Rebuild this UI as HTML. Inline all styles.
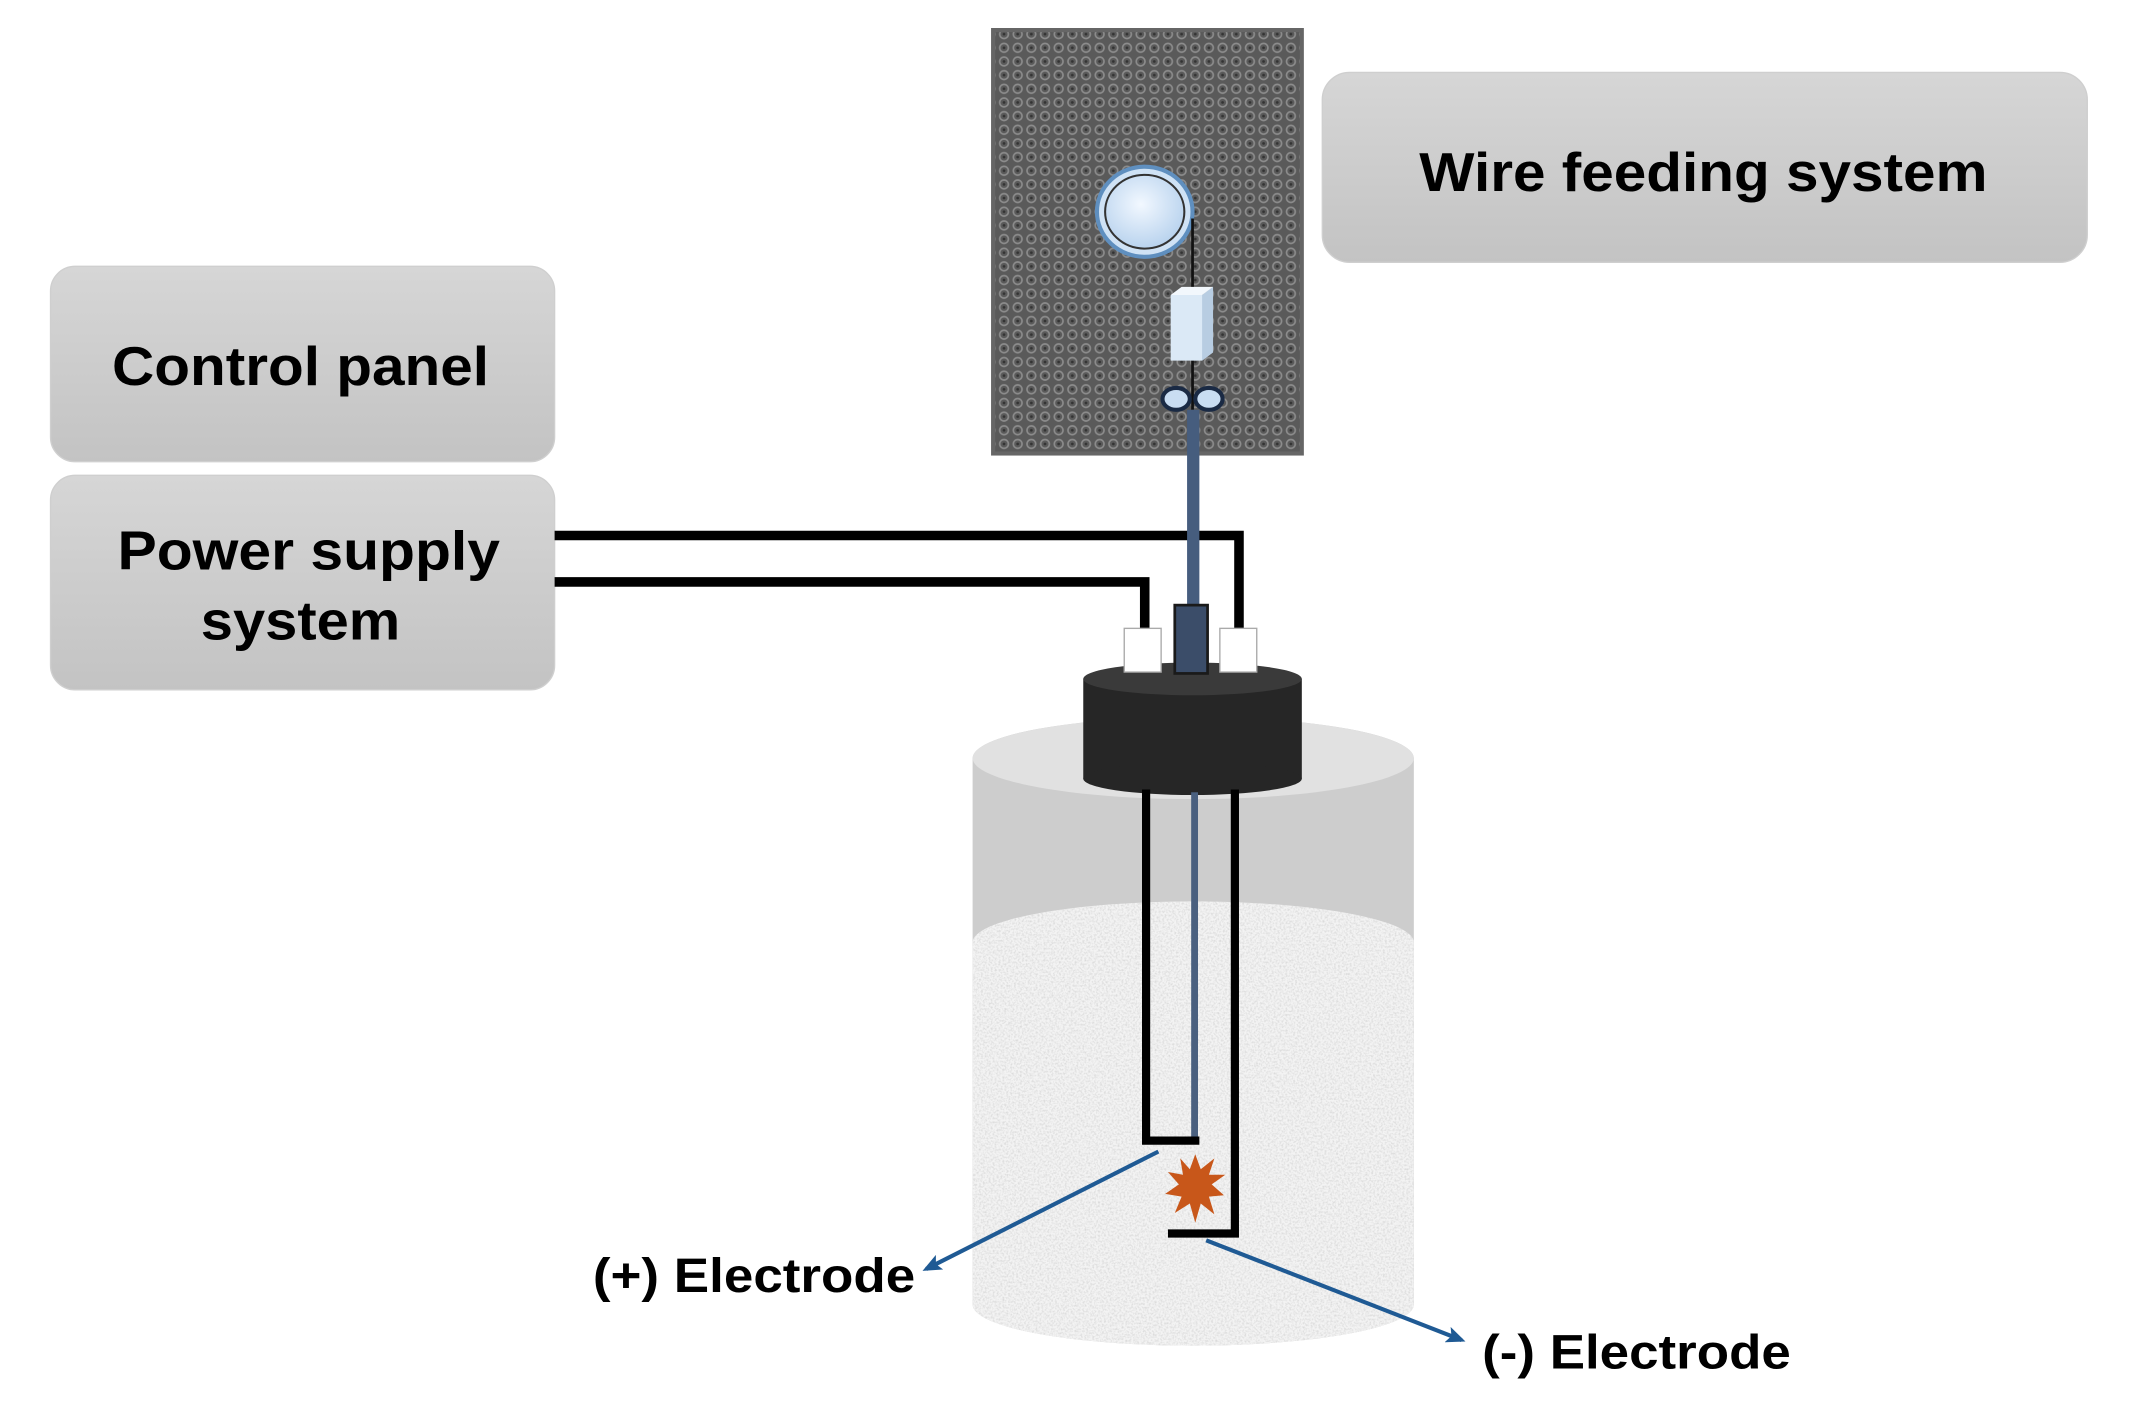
<!DOCTYPE html>
<html><head><meta charset="utf-8"><style>
html,body{margin:0;padding:0;background:#fff;}
svg{display:block;}
text{font-family:"Liberation Sans",Arial,sans-serif;font-weight:bold;fill:#000;}
</style></head><body>
<svg width="2131" height="1422" viewBox="0 0 1560 1041" preserveAspectRatio="none" xmlns="http://www.w3.org/2000/svg">
<defs>
<linearGradient id="bg" x1="0" y1="0" x2="0" y2="1">
<stop offset="0" stop-color="#d6d6d6"/><stop offset="1" stop-color="#c3c3c3"/>
</linearGradient>
<pattern id="tex" width="10" height="10" patternUnits="userSpaceOnUse">
<rect width="10" height="10" fill="#5a5a5a"/>
<circle cx="5" cy="5" r="3.2" fill="none" stroke="#8c8c8c" stroke-width="1.2"/>
<circle cx="5" cy="5" r="1" fill="#333"/>
</pattern>
<filter id="noise" x="0" y="0" width="100%" height="100%">
<feTurbulence type="fractalNoise" baseFrequency="0.7" numOctaves="2" seed="3" result="t"/>
<feColorMatrix in="t" type="matrix" values="0 0 0 0 0.6  0 0 0 0 0.6  0 0 0 0 0.6  0 0 0 -1.4 0.85"/>
<feComposite in2="SourceGraphic" operator="in"/>
</filter>
<radialGradient id="spool" cx="0.45" cy="0.4" r="0.6">
<stop offset="0" stop-color="#f2f8ff"/><stop offset="1" stop-color="#b9d3ee"/>
</radialGradient>
<marker id="ah" markerWidth="14" markerHeight="12" refX="11" refY="6" orient="auto" markerUnits="userSpaceOnUse">
<path d="M0,0 L14,6 L0,12 L3,6 Z" fill="#1f5a94"/>
</marker>
<clipPath id="sand"><path d="M712,690 A161,30 0 0 1 1035,690 L1035,955 A161,30 0 0 1 712,955 Z"/></clipPath>
</defs>

<rect x="37" y="195" width="369" height="143" rx="18" fill="url(#bg)" stroke="#cfcfcf"/>
<text x="220" y="282" font-size="40" text-anchor="middle" textLength="276" lengthAdjust="spacingAndGlyphs">Control panel</text>
<rect x="37" y="348" width="369" height="157" rx="18" fill="url(#bg)" stroke="#cfcfcf"/>
<text x="226" y="417" font-size="40" text-anchor="middle" textLength="280" lengthAdjust="spacingAndGlyphs">Power supply</text>
<text x="220" y="468" font-size="40" text-anchor="middle" textLength="146" lengthAdjust="spacingAndGlyphs">system</text>
<rect x="968" y="53" width="560" height="139" rx="20" fill="url(#bg)" stroke="#cfcfcf"/>
<text x="1247" y="140" font-size="40" text-anchor="middle" textLength="416" lengthAdjust="spacingAndGlyphs">Wire feeding system</text>

<rect x="727" y="22" width="226" height="310" fill="url(#tex)" stroke="#666" stroke-width="3"/>
<ellipse cx="838" cy="155" rx="35" ry="33" fill="#cfe2f5" stroke="#5f8fbf" stroke-width="3"/>
<ellipse cx="838" cy="155" rx="29" ry="27" fill="url(#spool)" stroke="#333" stroke-width="1.5"/>
<line x1="873" y1="160" x2="873" y2="300" stroke="#111" stroke-width="2"/>
<path d="M857,216 L880,216 L888,210 L888,258 L880,264 L857,264 Z" fill="#dbe9f6"/>
<path d="M880,216 L888,210 L888,258 L880,264 Z" fill="#b8cde2"/>
<path d="M857,216 L865,210 L888,210 L880,216 Z" fill="#f2f7fc"/>
<ellipse cx="861" cy="292" rx="10" ry="8" fill="#c9ddf2" stroke="#1a2a44" stroke-width="3"/>
<ellipse cx="885" cy="292" rx="10" ry="8" fill="#c9ddf2" stroke="#1a2a44" stroke-width="3"/>

<path d="M712,555 A161,30 0 0 1 1035,555 L1035,955 A161,30 0 0 1 712,955 Z" fill="#cdcdcd"/>
<ellipse cx="873.5" cy="555" rx="161.5" ry="30" fill="#e1e1e1"/>
<g clip-path="url(#sand)">
<rect x="700" y="650" width="350" height="350" fill="#f3f3f3"/>
<rect x="700" y="650" width="350" height="350" fill="#fff" filter="url(#noise)"/>
</g>

<polyline points="406,392 907,392 907,462" fill="none" stroke="#000" stroke-width="7"/>
<polyline points="406,426 838,426 838,462" fill="none" stroke="#000" stroke-width="7"/>
<rect x="869" y="300" width="9" height="145" fill="#465d7e"/>

<rect x="793" y="497" width="160" height="73" fill="#262626"/>
<ellipse cx="873" cy="570" rx="80" ry="12" fill="#262626"/>
<ellipse cx="873" cy="497" rx="80" ry="12" fill="#3a3a3a"/>
<rect x="823" y="460" width="27" height="32" fill="#fff" stroke="#aaa"/>
<rect x="893" y="460" width="27" height="32" fill="#fff" stroke="#aaa"/>
<rect x="860" y="443" width="24" height="50" fill="#3b4d69" stroke="#1a1a1a" stroke-width="2"/>

<polyline points="839,578 839,835 878,835" fill="none" stroke="#000" stroke-width="6"/>
<polyline points="855,903 904,903 904,578" fill="none" stroke="#000" stroke-width="6"/>
<rect x="872" y="580" width="5" height="252" fill="#4a607f"/>

<polygon fill="#c8571a" points="875,845 879,856 889,848 885,860 897,860 887,867 896,875 885,876 889,889 879,881 875,895 871,881 860,888 865,876 853,874 863,867 855,858 866,860 864,848 871,856"/>

<line x1="848" y1="843" x2="678" y2="929" stroke="#1f5a94" stroke-width="3" marker-end="url(#ah)"/>
<line x1="883" y1="908" x2="1070" y2="981" stroke="#1f5a94" stroke-width="3" marker-end="url(#ah)"/>
<text x="434" y="946" font-size="35" textLength="236" lengthAdjust="spacingAndGlyphs">(+) Electrode</text>
<text x="1085" y="1002" font-size="35" textLength="226" lengthAdjust="spacingAndGlyphs">(-) Electrode</text>
</svg>
</body></html>
